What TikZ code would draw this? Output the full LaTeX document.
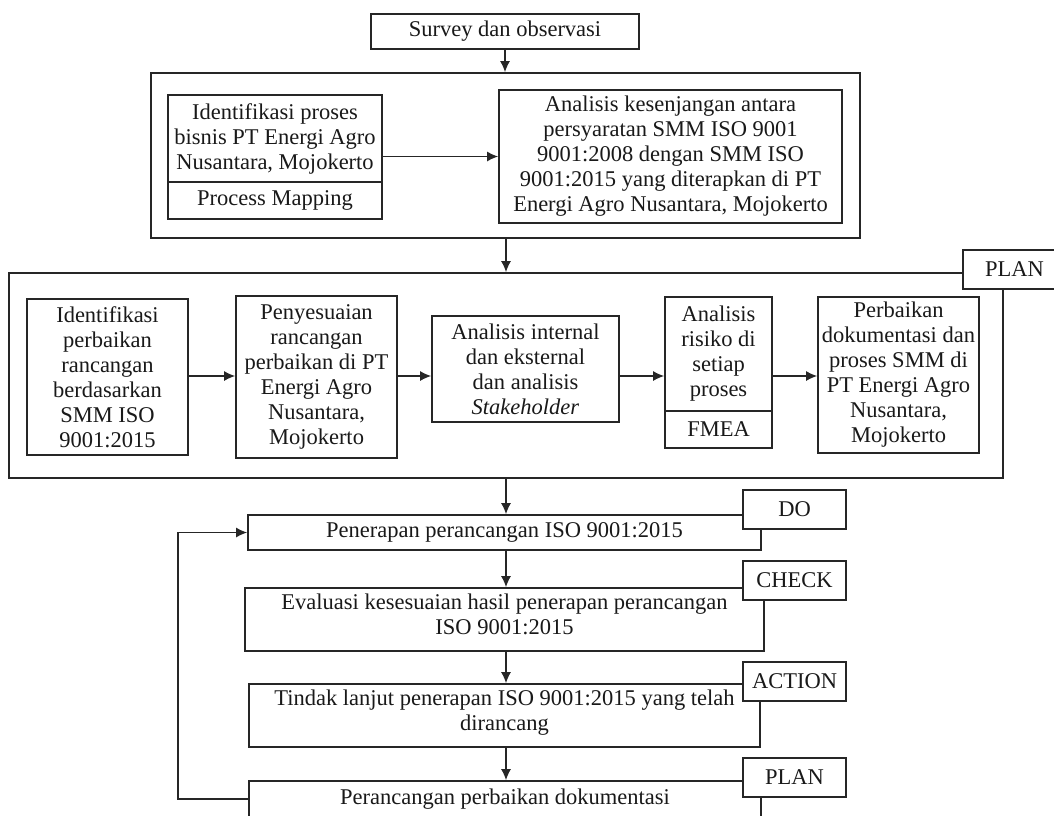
\documentclass[tikz,border=0pt]{standalone}
\usepackage{fontspec}
\setmainfont{Liberation Serif}
\usepackage{tikz}
\usetikzlibrary{arrows.meta}
\tikzstyle{box}=[draw=black!85, line width=1.8pt, fill=white, align=center, inner sep=2pt, text=black!90, font=\fontsize{22.5pt}{25pt}\selectfont]
\tikzstyle{tag}=[box, minimum width=103pt, minimum height=39pt]
\tikzstyle{arrow}=[draw=black!85, line width=1.2pt, >={Latex[length=11pt, width=10pt]}]

\begin{document}
\begin{tikzpicture}[x=1pt, y=-1pt]
		   \useasboundingbox (0, 0) rectangle (1054, 815);
		   \clip (0, 0) rectangle (1054, 815);
		   \begin{scope}
			   \node (0) at (505, 31.5)[box, minimum width=268pt, minimum height=35pt] {Survey dan observasi};
			   \node (1) at (505.5, 155.5)[box, minimum width=709pt, minimum height=165pt] {};
			   \node (2) at (275, 138.5)[box, minimum width=214pt, minimum height=87pt] {Identifikasi proses\\bisnis PT Energi Agro\\Nusantara, Mojokerto};
			   \node (3) at (275, 200.5)[box, minimum width=214pt, minimum height=37pt] {Process Mapping};
			   \node (4) at (670.5, 156.5)[box, minimum width=343pt, minimum height=133pt] {Analisis kesenjangan antara\\persyaratan SMM ISO 9001\\9001:2008 dengan SMM ISO\\9001:2015 yang diterapkan di PT\\Energi Agro Nusantara, Mojokerto};
			   \node (5) at (506, 375.5)[box, minimum width=994pt, minimum height=205pt] {};
			   \node (6) at (1014.5, 269.5)[tag] {PLAN};
			   \node (7) at (107.5, 377)[box, minimum width=161pt, minimum height=156pt] {Identifikasi\\perbaikan\\rancangan\\berdasarkan\\SMM ISO\\9001:2015};
			   \node (8) at (316.5, 377)[box, minimum width=161pt, minimum height=162pt] {Penyesuaian\\rancangan\\perbaikan di PT\\Energi Agro\\Nusantara,\\Mojokerto};
			   \node (9) at (525.5, 369)[box, minimum width=187pt, minimum height=106pt] {Analisis internal\\dan eksternal\\dan analisis\\\textit{Stakeholder}};
			   \node (10) at (718.5, 354)[box, minimum width=107pt, minimum height=114pt] {Analisis\\risiko di\\setiap\\proses};
			   \node (11) at (718.5, 429.5)[box, minimum width=107pt, minimum height=37pt] {FMEA};
			   \node (12) at (898.5, 375)[box, minimum width=161pt, minimum height=156pt] {Perbaikan\\dokumentasi dan\\proses SMM di\\PT Energi Agro\\Nusantara,\\Mojokerto};
			   \node (13) at (504.5, 532.5)[box, minimum width=513pt, minimum height=35pt] {Penerapan perancangan ISO 9001:2015};
			   \node (14) at (794.5, 509.5)[tag] {DO};
			   \node (15) at (504.5, 619.5)[box, minimum width=519pt, minimum height=63pt, text depth=10pt] {Evaluasi kesesuaian hasil penerapan perancangan\\ISO 9001:2015};
			   \node (16) at (794.5, 580.5)[tag] {CHECK};
			   \node (17) at (504.5, 715.5)[box, minimum width=511pt, minimum height=63pt, text depth=10pt] {Tindak lanjut penerapan ISO 9001:2015 yang telah\\dirancang};
			   \node (18) at (794.5, 681.5)[tag] {ACTION};
			   \node (19) at (505, 799)[box, minimum width=512pt, minimum height=36pt] {Perancangan perbaikan dokumentasi};
			   \node (20) at (794.5, 777.5)[tag] {PLAN};
			   \coordinate (row) at (0, 376);
			   \coordinate (loop) at (178, 799);
		   \end{scope}
		   \begin{scope}
			   \path (0.south) edge [arrow, ->] (0.south |- 1.north);
			   \path (2.east |- 4.west) edge [arrow, ->] (4.west);
			   \path (1.south -| 5.north) edge [arrow, ->] (5.north);
			   \path (7.east |- row) edge [arrow, ->] (8.west |- row);
			   \path (8.east |- row) edge [arrow, ->] (9.west |- row);
			   \path (9.east |- row) edge [arrow, ->] (10.west |- row);
			   \path (10.east |- row) edge [arrow, ->] (12.west |- row);
			   \path (5.south) edge [arrow, ->] (5.south |- 13.north);
			   \path (13.south -| 5.south) edge [arrow, ->] (15.north -| 5.south);
			   \path (15.south -| 5.south) edge [arrow, ->] (17.north -| 5.south);
			   \path (17.south -| 5.south) edge [arrow, ->] (19.north -| 5.south);
			   \draw [arrow, ->] (19.west) -- (loop) |- (13.west);
		   \end{scope}
\end{tikzpicture}
\end{document}
